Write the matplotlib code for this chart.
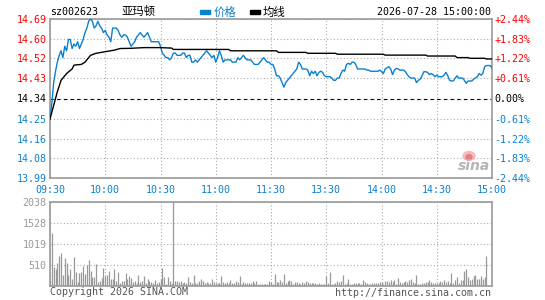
import matplotlib
matplotlib.use('Agg')
import matplotlib.pyplot as plt
import matplotlib.patches as mpatches

# ---- 数据 ----
PREV_CLOSE = 14.34
PRICE_TICKS = [13.99, 14.08, 14.16, 14.25, 14.34, 14.43, 14.52, 14.60, 14.69]
PCT_LABELS = ['-2.44%', '-1.83%', '-1.22%', '-0.61%', '0.00%',
              '+0.61%', '+1.22%', '+1.83%', '+2.44%']
TIME_LABELS = ['09:30', '10:00', '10:30', '11:00', '11:30',
               '13:30', '14:00', '14:30', '15:00']
VOL_TICKS = [510, 1019, 1528, 2038]

# 每分钟价格 (0 = 09:30, 120 = 11:30/13:00, 240 = 15:00)
price = [
    14.25, 14.32, 14.41, 14.46, 14.50, 14.53, 14.55, 14.52, 14.57, 14.55,
    14.60, 14.60, 14.56, 14.58, 14.57, 14.59, 14.56, 14.58, 14.60, 14.63,
    14.65, 14.68, 14.69, 14.68, 14.65, 14.66, 14.68, 14.66, 14.65, 14.63,
    14.64, 14.62, 14.61, 14.59, 14.65, 14.65, 14.65, 14.64, 14.62, 14.61,
    14.62, 14.62, 14.61, 14.59, 14.57, 14.58, 14.59, 14.61, 14.62, 14.63,
    14.62, 14.61, 14.62, 14.63, 14.61, 14.59, 14.59, 14.59, 14.59, 14.59,
    14.57, 14.54, 14.53, 14.52, 14.52, 14.51, 14.52, 14.54, 14.54, 14.53,
    14.53, 14.53, 14.54, 14.54, 14.52, 14.53, 14.53, 14.50, 14.50, 14.51,
    14.50, 14.51, 14.52, 14.53, 14.54, 14.55, 14.54, 14.53, 14.52, 14.53,
    14.50, 14.52, 14.55, 14.53, 14.50, 14.51, 14.51, 14.51, 14.51, 14.50,
    14.50, 14.50, 14.52, 14.51, 14.52, 14.53, 14.52, 14.51, 14.51, 14.51,
    14.50, 14.49, 14.49, 14.49, 14.50, 14.51, 14.52, 14.51, 14.50, 14.50,
    14.49,
    14.49, 14.47, 14.44, 14.44, 14.43, 14.41, 14.39, 14.41, 14.42, 14.43,
    14.44, 14.45, 14.46, 14.47, 14.50, 14.49, 14.47, 14.47, 14.47, 14.465,
    14.44, 14.46, 14.45, 14.46, 14.44, 14.455, 14.46, 14.455, 14.44, 14.436,
    14.436, 14.436, 14.43, 14.42, 14.42, 14.43, 14.43, 14.45, 14.465, 14.46,
    14.49, 14.495, 14.49, 14.50, 14.50, 14.49, 14.47, 14.47, 14.47, 14.47,
    14.47, 14.465, 14.465, 14.46, 14.46, 14.46, 14.46, 14.46, 14.465, 14.458,
    14.45, 14.47, 14.475, 14.48, 14.47, 14.445, 14.465, 14.473, 14.47, 14.465,
    14.465, 14.465, 14.458, 14.445, 14.435, 14.43, 14.43, 14.43, 14.41, 14.42,
    14.425, 14.44, 14.458, 14.458, 14.455, 14.445, 14.45, 14.445, 14.436, 14.443,
    14.436, 14.436, 14.436, 14.443, 14.455, 14.44, 14.42, 14.417, 14.417, 14.43,
    14.44, 14.43, 14.43, 14.43, 14.42, 14.407, 14.417, 14.417, 14.417, 14.425,
    14.43, 14.436, 14.45, 14.443, 14.45, 14.48, 14.485, 14.485, 14.485, 14.475,
]

# 均线 (分钟, 值)
avg_min = [0, 2, 4, 6, 9, 12, 13, 17, 19, 21, 22, 25, 30, 35, 38, 44, 51, 60,
           66, 67, 97, 98, 123, 124, 139, 140, 155, 156, 181, 182, 204, 205,
           220, 221, 227, 228, 236, 237, 240]
avg_val = [14.25, 14.31, 14.37, 14.42, 14.45, 14.47, 14.487, 14.49, 14.50,
           14.52, 14.53, 14.539, 14.546, 14.553, 14.56, 14.561, 14.564, 14.564,
           14.562, 14.556, 14.556, 14.55, 14.55, 14.543, 14.543, 14.539,
           14.539, 14.535, 14.535, 14.531, 14.531, 14.527, 14.527, 14.52,
           14.52, 14.517, 14.517, 14.514, 14.514]

# 每分钟成交量
volume = [
    121, 1294, 470, 413, 566, 728, 809, 267, 688, 566,
    267, 413, 178, 712, 348, 105, 324, 348, 494, 291,
    510, 631, 372, 227, 227, 526, 105, 129, 194, 437,
    251, 267, 372, 178, 162, 413, 129, 348, 81, 121,
    113, 324, 162, 243, 194, 97, 121, 81, 267, 105,
    121, 243, 81, 162, 129, 97, 81, 146, 65, 89,
    162, 437, 218, 49, 218, 129, 65, 2038, 121, 121,
    105, 121, 65, 97, 81, 227, 89, 65, 267, 81,
    65, 121, 170, 121, 81, 105, 81, 65, 170, 105,
    81, 65, 65, 243, 105, 81, 105, 65, 146, 81,
    65, 121, 105, 243, 49, 105, 65, 81, 65, 65,
    121, 65, 121, 49, 49, 49, 49, 49, 49, 121,
    105, 49, 291, 97, 97, 146, 105, 291, 81, 129,
    146, 113, 49, 97, 97, 65, 49, 97, 65, 121,
    97, 81, 65, 81, 65, 49, 81, 49, 49, 49,
    243, 65, 348, 49, 49, 65, 121, 97, 113, 267,
    49, 65, 162, 49, 49, 65, 65, 65, 65, 49,
    146, 97, 65, 49, 49, 65, 65, 81, 81, 97,
    97, 49, 121, 121, 97, 146, 97, 146, 49, 186,
    105, 65, 97, 121, 97, 146, 162, 97, 65, 267,
    49, 49, 65, 65, 97, 97, 146, 97, 65, 65,
    65, 81, 121, 97, 146, 97, 121, 65, 307, 65,
    146, 210, 65, 146, 146, 364, 405, 210, 146, 178,
    243, 267, 162, 162, 243, 178, 218, 728, 0, 0,
    0,
]

# ---- 样式 ----
W, H = 545, 300
BLUE = '#0a80d0'
RED = '#ff0000'
GRID = '#aaaaaa'
BORDER = '#999999'
MONO = 'DejaVu Sans Mono'
CJK = ['Noto Sans CJK SC', 'DejaVu Sans']
FS = 7.2

fig = plt.figure(figsize=(W / 100, H / 100), dpi=100)
fig.patch.set_facecolor('white')


def box(x0, y0, x1, y1):
    return [x0 / W, 1 - y1 / H, (x1 - x0) / W, (y1 - y0) / H]


minutes = list(range(len(price)))
tick_pos = [0, 30, 60, 90, 120, 150, 180, 210, 240]

# ---- 价格图 ----
ax = fig.add_axes(box(50, 19, 492, 178))
ax.set_xlim(0, 240)
ax.set_ylim(PREV_CLOSE - 0.35, PREV_CLOSE + 0.35)
ax.set_xticks(tick_pos)
ax.set_xticklabels(TIME_LABELS, color=BLUE, fontsize=FS, family=MONO)
ax.set_yticks(PRICE_TICKS)
ax.set_yticklabels([f'{v:.2f}' for v in PRICE_TICKS], fontsize=FS, family=MONO)
for lab, v in zip(ax.get_yticklabels(), PRICE_TICKS):
    lab.set_color(RED if v > PREV_CLOSE + 1e-6 else (BLUE if v < PREV_CLOSE - 1e-6 else 'black'))
ax.tick_params(axis='both', length=0)
ax.tick_params(axis='y', pad=2.5)
ax.tick_params(axis='x', pad=5)
ax.grid(True, color=GRID, linestyle=(0, (1, 2)), linewidth=0.8)
for s in ax.spines.values():
    s.set_color(BORDER)
    s.set_linewidth(1.2)

ax.axhline(PREV_CLOSE, color='black', linestyle=(0, (3, 3)), linewidth=0.8, zorder=2)
ax.plot(minutes, price, color=BLUE, linewidth=1.0, zorder=3)
ax.plot(avg_min, avg_val, color='black', linewidth=1.0, zorder=4)

ax2 = ax.twinx()
ax2.set_ylim(ax.get_ylim())
ax2.set_yticks(PRICE_TICKS)
ax2.set_yticklabels(PCT_LABELS, fontsize=FS, family=MONO)
for lab, v in zip(ax2.get_yticklabels(), PRICE_TICKS):
    lab.set_color(RED if v > PREV_CLOSE + 1e-6 else (BLUE if v < PREV_CLOSE - 1e-6 else 'black'))
ax2.tick_params(axis='y', length=0, pad=1.5)
for s in ax2.spines.values():
    s.set_visible(False)

# ---- 成交量图 ----
axv = fig.add_axes(box(50, 202, 492, 286))
axv.set_xlim(0, 240)
axv.set_ylim(0, max(VOL_TICKS))
axv.vlines(minutes, 0, volume, color='#999999', linewidth=0.9)
axv.set_xticks(tick_pos)
axv.set_xticklabels([])
axv.set_yticks(VOL_TICKS)
axv.set_yticklabels([str(v) for v in VOL_TICKS], color='#999999', fontsize=FS, family=MONO)
axv.tick_params(axis='both', length=0)
axv.tick_params(axis='y', pad=2.5)
axv.grid(True, color=GRID, linestyle=(0, (1, 2)), linewidth=0.8)
axv.set_axisbelow(True)
for s in axv.spines.values():
    s.set_color(BORDER)
    s.set_linewidth(1.2)

# ---- 标题和图例 ----
def px(x, y):
    return x / W, 1 - y / H


fig.text(*px(50, 12), 'sz002623', fontsize=FS, family=MONO, va='center', ha='left')
fig.text(*px(122, 12), '亚玛顿', fontsize=8.2, family=CJK, va='center', ha='left')
fig.add_artist(mpatches.Rectangle(px(200, 13.5), 10 / W, 3 / H, color=BLUE, transform=fig.transFigure))
fig.text(*px(214, 12), '价格', fontsize=8.2, family=CJK, color=BLUE, va='center', ha='left')
fig.add_artist(mpatches.Rectangle(px(250, 13.5), 10 / W, 3 / H, color='black', transform=fig.transFigure))
fig.text(*px(263, 12), '均线', fontsize=8.2, family=CJK, va='center', ha='left')
fig.text(*px(491, 12), '2026-07-28 15:00:00', fontsize=FS, family=MONO, va='center', ha='right')

fig.text(*px(50, 292), 'Copyright 2026 SINA.COM', fontsize=FS, family=MONO, color='#555555',
         va='center', ha='left')
fig.text(*px(491, 293), 'http://finance.sina.com.cn', fontsize=FS, family=MONO, color='#555555',
         va='center', ha='right')

# 新浪水印
fig.add_artist(mpatches.Ellipse(px(469, 156), 12 / W, 9 / H, color='#f4b0b0', alpha=0.8,
                                transform=fig.transFigure))
fig.add_artist(mpatches.Ellipse(px(469, 157), 6 / W, 5 / H, color='#e07070', alpha=0.7,
                                transform=fig.transFigure))
fig.text(*px(474, 166), 'sina', fontsize=10, fontstyle='italic', fontweight='bold',
         color='#b5b5b5', va='center', ha='center')

fig.savefig('out.png', dpi=100, facecolor='white')
